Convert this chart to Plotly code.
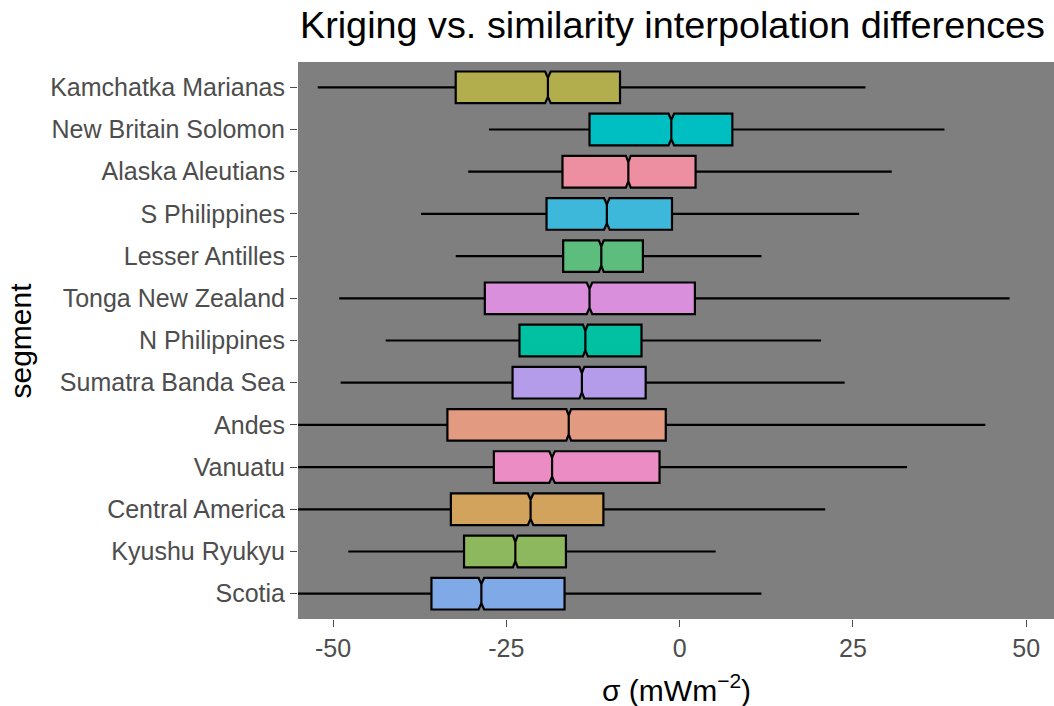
import plotly.graph_objects as go

# Segments listed top to bottom as drawn
segments = ["Kamchatka Marianas", "New Britain Solomon", "Alaska Aleutians",
            "S Philippines", "Lesser Antilles", "Tonga New Zealand",
            "N Philippines", "Sumatra Banda Sea", "Andes", "Vanuatu",
            "Central America", "Kyushu Ryukyu", "Scotia"]

# Box statistics of sigma (mW m^-2) for each segment
lower_whisker = [-52.2, -27.5, -30.5, -37.3, -32.3, -49.1, -42.4, -48.9, -60.0, -58.0, -57.5, -47.8, -58.5]
q1            = [-32.3, -13.0, -16.9, -19.2, -16.8, -28.1, -23.1, -24.1, -33.5, -26.8, -33.0, -31.1, -35.8]
median        = [-19.0, -1.2, -7.4, -10.5, -11.3, -13.0, -13.6, -14.1, -16.0, -18.4, -21.5, -23.7, -28.6]
q3            = [-8.6, 7.6, 2.3, -1.1, -5.3, 2.2, -5.5, -4.9, -2.0, -2.9, -11.0, -16.4, -16.6]
upper_whisker = [26.8, 38.2, 30.6, 25.9, 11.8, 47.6, 20.4, 23.8, 44.1, 32.8, 21.0, 5.2, 11.8]
notch_half    = [0.4, 0.4, 0.35, 0.4, 0.35, 0.4, 0.35, 0.35, 0.35, 0.4, 0.4, 0.35, 0.4]

colors = ["#B2AE4E", "#00BFC2", "#ED8FA0", "#3DB8DB", "#5CBD7C", "#DA8FDD",
          "#00C0A2", "#B59CEA", "#E29A80", "#EC8CC4", "#D1A35D", "#8DB85E", "#80A9E8"]

x_ticks = [-50, -25, 0, 25, 50]

fig = go.Figure()
for i, seg in enumerate(segments):
    fig.add_trace(go.Box(
        y=[seg],
        orientation="h",
        lowerfence=[lower_whisker[i]],
        q1=[q1[i]],
        median=[median[i]],
        q3=[q3[i]],
        upperfence=[upper_whisker[i]],
        notched=True,
        notchspan=[notch_half[i]],
        notchwidth=0.2,
        width=0.75,
        whiskerwidth=0,
        fillcolor=colors[i],
        line=dict(color="black", width=2.2),
        showlegend=False,
        hoverinfo="skip",
    ))

fig.update_layout(
    width=1054, height=706,
    margin=dict(l=298, r=0, t=62, b=87),
    paper_bgcolor="white",
    plot_bgcolor="#7F7F7F",
    font=dict(family="Liberation Sans, Arial, sans-serif"),
    title=dict(
        text="Kriging vs. similarity interpolation differences",
        x=1045 / 1054, xref="container", xanchor="right",
        y=1 - 25 / 706, yref="container", yanchor="middle",
        font=dict(size=37.8, color="black"),
    ),
    xaxis=dict(
        range=[-55.05, 54.0],
        tickvals=x_ticks,
        ticktext=[str(v) for v in x_ticks],
        showgrid=False, zeroline=False,
        ticks="outside", ticklen=7, tickwidth=1.2, tickcolor="#4D4D4D",
        tickfont=dict(size=25, color="#4D4D4D"),
        showline=False,
    ),
    yaxis=dict(
        type="category",
        categoryorder="array",
        categoryarray=segments[::-1],
        range=[-0.6, 12.6],
        showgrid=False, zeroline=False,
        ticks="outside", ticklen=7, tickwidth=1.2, tickcolor="#4D4D4D",
        tickfont=dict(size=25, color="#4D4D4D"),
        showline=False,
    ),
    annotations=[
        dict(text="segment", textangle=-90, xref="paper", yref="paper",
             x=-278 / 756, y=0.5, xanchor="center", yanchor="middle",
             showarrow=False, font=dict(size=30, color="black")),
        dict(text="σ (mWm<sup>−2</sup>)", xref="paper", yref="paper",
             x=0.5, y=-(688 - 619) / 557, xanchor="center", yanchor="middle",
             showarrow=False, font=dict(size=30, color="black")),
    ],
)

fig.write_html("out.html")
